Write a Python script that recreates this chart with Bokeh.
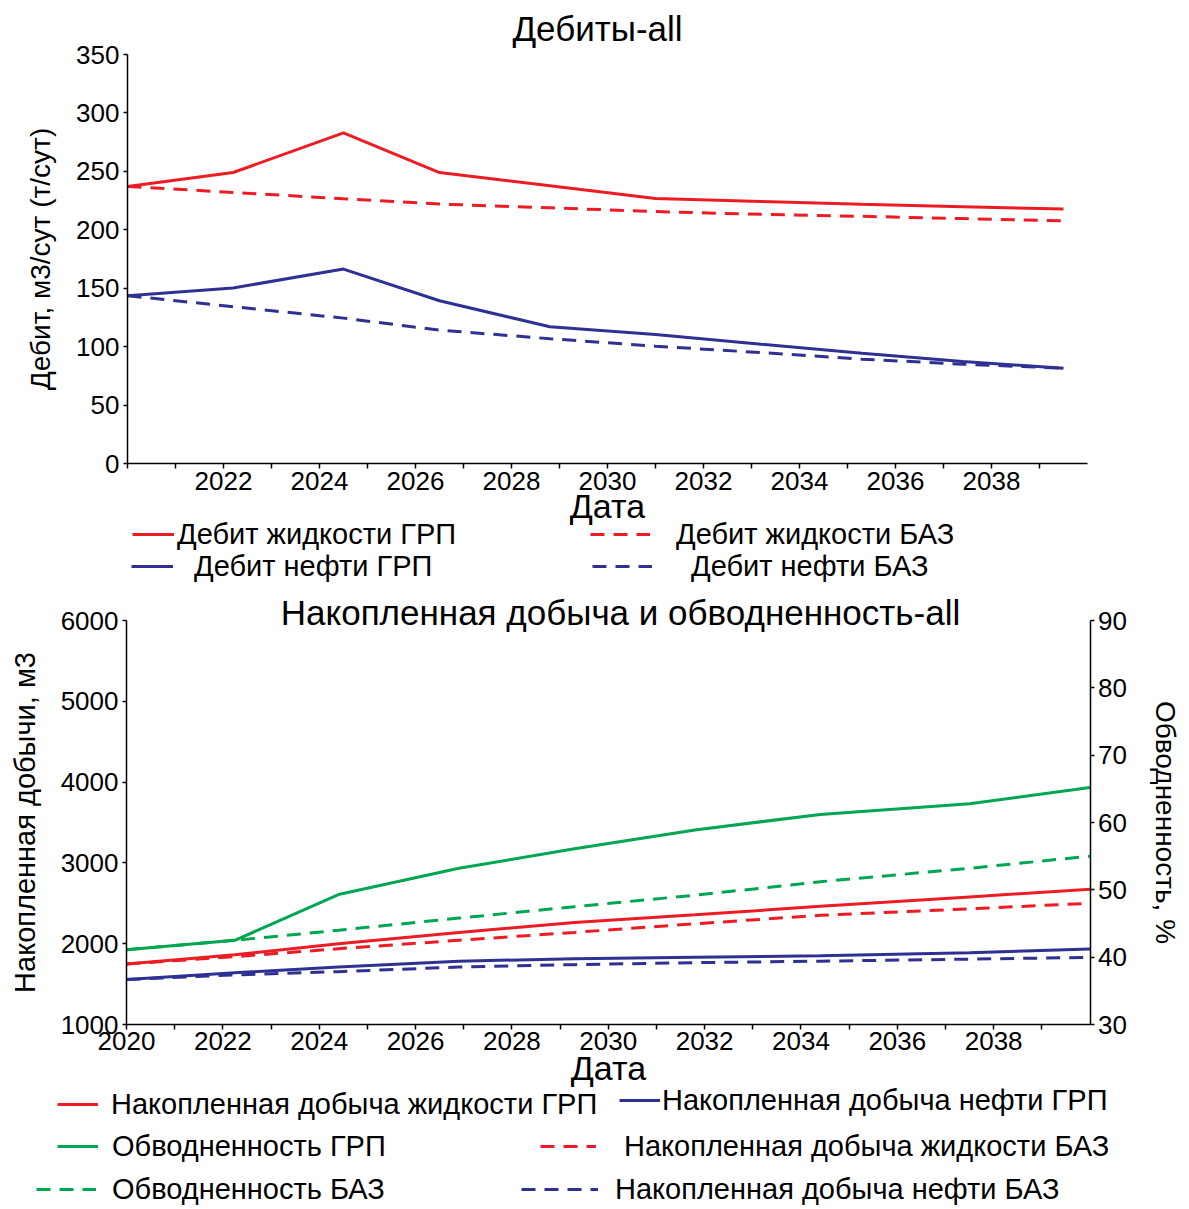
from bokeh.plotting import figure
from bokeh.models import Range1d, LinearAxis, FixedTicker, Legend, LegendItem, Label
from bokeh.layouts import column
from bokeh.embed import file_html
from bokeh.resources import INLINE

FONT = "Liberation Sans"
RED = "#ed1c24"
BLUE = "#2e3192"
GREEN = "#00a651"
DASH = "14 9"

# ---- Chart 1: rates ----
rate_dates = [2020.0, 2022.2, 2024.5, 2026.5, 2028.8, 2031.0, 2033.2, 2035.3, 2037.4, 2039.5]
liq_rate_grp = [237, 249, 283, 249, 237.7, 226.7, 224.2, 221.8, 219.7, 217.7]
liq_rate_baz = [237, 232, 226.5, 222, 218.8, 215.6, 213.2, 211.5, 209.6, 207.7]
oil_rate_grp = [143.6, 150.2, 166.4, 139.3, 117.0, 110.3, 102.1, 94.4, 87.3, 81.5]
oil_rate_baz = [143.6, 134.2, 124.4, 114.1, 106.8, 100.4, 94.9, 89.3, 85.0, 81.5]
rate_yticks = [0, 50, 100, 150, 200, 250, 300, 350]

# ---- Chart 2: cumulative production and water cut ----
cum_dates = [2020.0, 2022.25, 2024.4, 2026.9, 2029.3, 2031.8, 2034.4, 2037.5, 2040.0]
cum_liq_grp = [1749, 1864, 2000, 2140, 2262, 2357, 2463, 2579, 2675]
cum_liq_baz = [1749, 1840, 1938, 2042, 2140, 2246, 2352, 2432, 2500]
cum_oil_grp = [1556, 1640, 1711, 1783, 1815, 1832, 1852, 1889, 1935]
cum_oil_baz = [1556, 1614, 1654, 1712, 1741, 1765, 1784, 1809, 1831]
wc_grp = [41.1, 42.5, 49.3, 53.2, 56.1, 58.9, 61.2, 62.8, 65.2]
wc_baz = [41.1, 42.5, 44.0, 45.8, 47.5, 49.2, 51.2, 53.2, 55.0]
cum_yticks = [1000, 2000, 3000, 4000, 5000, 6000]
wc_yticks = [30, 40, 50, 60, 70, 80, 90]

year_major = list(range(2020, 2040, 2))
year_minor = list(range(2021, 2040, 2))
X0, X1 = 2020, 2040

# ---- pixel layout (figure-relative, y from top) ----
W = 1185
H1 = 590
H2 = 617
LEG_H = 34


def span_range(v0, v1, p0, p1, size):
    """Range so that value v0 sits at pixel p0 and v1 at pixel p1 (pixels from low side)."""
    u = (v1 - v0) / (p1 - p0)
    return Range1d(v0 - p0 * u, v0 + (size - p0) * u)


def style_axis(ax, label_size="28px"):
    ax.axis_line_color = "black"
    ax.axis_line_width = 1.5
    ax.major_tick_line_color = "black"
    ax.major_tick_line_width = 1.5
    ax.minor_tick_line_color = "black"
    ax.minor_tick_line_width = 1.5
    ax.major_tick_in = 0
    ax.major_tick_out = 5
    ax.minor_tick_in = 0
    ax.minor_tick_out = 5
    ax.major_label_text_font = FONT
    ax.major_label_text_font_size = "26px"
    ax.major_label_text_color = "black"
    ax.axis_label_text_font = FONT
    ax.axis_label_text_font_size = label_size
    ax.axis_label_text_font_style = "normal"
    ax.axis_label_text_color = "black"


def item_legend(label, rend, x, yc, gw, standoff, bottom):
    return Legend(items=[LegendItem(label=label, renderers=[rend])],
                  location=(x, bottom - yc - LEG_H // 2),
                  orientation="vertical", glyph_width=gw, glyph_height=LEG_H, label_height=LEG_H,
                  label_standoff=standoff, spacing=0, padding=0, margin=0,
                  border_line_color=None, background_fill_alpha=0,
                  label_text_font=FONT, label_text_font_size="29px",
                  label_text_color="black")


def base_fig(h, xr, yr):
    p = figure(width=W, height=h, x_range=xr, y_range=yr, output_backend="svg",
               toolbar_location=None, title=None,
               min_border_left=0, min_border_right=0, min_border_top=0, min_border_bottom=0)
    p.outline_line_color = None
    p.xgrid.visible = False
    p.ygrid.visible = False
    return p


# ================= Figure 1 =================
p1 = base_fig(H1, span_range(X0, X1, 127, 1087, W), span_range(0, 350, H1 - 463, H1 - 54, H1))

r1 = p1.line(rate_dates, liq_rate_grp, line_color=RED, line_width=3)
r2 = p1.line(rate_dates, liq_rate_baz, line_color=RED, line_width=3, line_dash=DASH)
r3 = p1.line(rate_dates, oil_rate_grp, line_color=BLUE, line_width=3)
r4 = p1.line(rate_dates, oil_rate_baz, line_color=BLUE, line_width=3, line_dash=DASH)

for ax in p1.xaxis:
    ax.fixed_location = 0
    ax.bounds = (X0, X1)
    ax.ticker = FixedTicker(ticks=year_major, minor_ticks=year_minor)
    ax.major_label_overrides = {2020: ""}
    ax.axis_label = "Дата"
    style_axis(ax, "34px")
    ax.major_label_standoff = 3
    ax.axis_label_standoff = -6
for ax in p1.yaxis:
    ax.fixed_location = X0
    ax.bounds = (0, 350)
    ax.ticker = FixedTicker(ticks=rate_yticks)
    ax.axis_label = "Дебит, м3/сут (т/сут)"
    style_axis(ax, "28px")
    ax.major_tick_out = 4
    ax.major_label_standoff = 4
    ax.axis_label_standoff = 17

p1.add_layout(Label(x=597, y=H1 - 28, x_units="screen", y_units="screen", text="Дебиты-all",
                    text_align="center", text_baseline="middle", text_font=FONT,
                    text_font_size="35px", text_color="black"))

p1.add_layout(item_legend("Дебит жидкости ГРП", r1, 132, 534, 42, 3, H1))
p1.add_layout(item_legend("Дебит нефти ГРП", r3, 131, 566, 42, 21, H1))
p1.add_layout(item_legend("Дебит жидкости БАЗ", r2, 590, 534, 60, 26, H1))
p1.add_layout(item_legend("Дебит нефти БАЗ", r4, 592, 566, 60, 39, H1))

# ================= Figure 2 =================
T2 = 590  # page y of figure 2 top
p2 = base_fig(H2, span_range(X0, X1, 126, 1089.5, W),
              span_range(1000, 6000, H2 - (1024 - T2), H2 - (620 - T2), H2))
p2.extra_y_ranges = {"wc": span_range(30, 90, H2 - (1024 - T2), H2 - (620 - T2), H2)}

q1 = p2.line(cum_dates, cum_liq_grp, line_color=RED, line_width=3)
q2 = p2.line(cum_dates, cum_liq_baz, line_color=RED, line_width=3, line_dash=DASH)
q3 = p2.line(cum_dates, cum_oil_grp, line_color=BLUE, line_width=3)
q4 = p2.line(cum_dates, cum_oil_baz, line_color=BLUE, line_width=3, line_dash=DASH)
q5 = p2.line(cum_dates, wc_grp, line_color=GREEN, line_width=3, y_range_name="wc")
q6 = p2.line(cum_dates, wc_baz, line_color=GREEN, line_width=3, line_dash=DASH, y_range_name="wc")

for ax in p2.xaxis:
    ax.fixed_location = 1000
    ax.bounds = (X0, X1)
    ax.ticker = FixedTicker(ticks=year_major, minor_ticks=year_minor)
    ax.axis_label = "Дата"
    style_axis(ax, "34px")
    ax.major_label_standoff = 2
    ax.axis_label_standoff = -4
for ax in p2.yaxis:
    ax.fixed_location = X0
    ax.bounds = (1000, 6000)
    ax.ticker = FixedTicker(ticks=cum_yticks)
    ax.axis_label = "Накопленная добычи, м3"
    style_axis(ax, "29px")
    ax.major_tick_out = 4
    ax.major_label_standoff = 4
    ax.axis_label_standoff = 17

ax_r = LinearAxis(y_range_name="wc", fixed_location=X1, bounds=(30, 90),
                  ticker=FixedTicker(ticks=wc_yticks), axis_label="Обводненность, %")
style_axis(ax_r, "28px")
ax_r.major_tick_out = 4
ax_r.major_label_standoff = 4
ax_r.axis_label_standoff = 20
p2.add_layout(ax_r, "right")

p2.add_layout(Label(x=620, y=H2 - (612 - T2), x_units="screen", y_units="screen",
                    text="Накопленная добыча и обводненность-all",
                    text_align="center", text_baseline="middle", text_font=FONT,
                    text_font_size="35px", text_color="black"))

B2 = H2 + T2  # page y of figure 2 bottom
p2.add_layout(item_legend("Накопленная добыча жидкости ГРП", q1, 57, 1104, 41, 13, B2))
p2.add_layout(item_legend("Обводненность ГРП", q5, 57, 1146, 41, 14, B2))
p2.add_layout(item_legend("Обводненность БАЗ", q6, 36, 1189, 60, 16, B2))
p2.add_layout(item_legend("Накопленная добыча нефти ГРП", q3, 619, 1100, 41, 2, B2))
p2.add_layout(item_legend("Накопленная добыча жидкости БАЗ", q2, 540, 1146, 56, 28, B2))
p2.add_layout(item_legend("Накопленная добыча нефти БАЗ", q4, 521, 1189, 77, 17, B2))

layout = column(p1, p2, spacing=0)
open("out.html", "w").write(file_html(layout, INLINE))
